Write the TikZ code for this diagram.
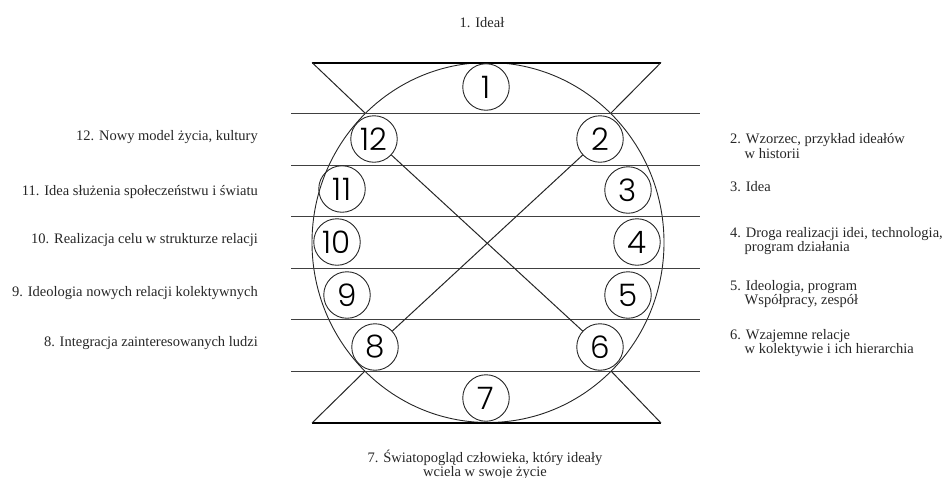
\documentclass[tikz,border=0pt]{standalone}
\usepackage{fontspec}
\setmainfont{Liberation Serif}
\newfontfamily\labfont{Liberation Serif}
\newfontfamily\digfont{Poppins Light}
\begin{document}
\begin{tikzpicture}[x=1pt,y=-1pt,
  numc/.style={circle, draw=black!85, line width=0.9pt, minimum size=46.5pt, inner sep=0pt,
    font=\digfont\fontsize{31}{31}\selectfont},
  thinl/.style={line width=0.9pt, draw=black!75},
  diag/.style={line width=1pt, draw=black!85},
  thickl/.style={line width=2pt, draw=black},
  lab/.style={inner sep=0pt, text=black!85, font=\labfont\fontsize{14.5}{13}\selectfont},
  labr/.style={lab, anchor=west, align=left},
  labl/.style={lab, anchor=east}]
\useasboundingbox (0,0) rectangle (945,477);
% big circle
\draw[thinl, draw=black!85] (488,242.5) ellipse [x radius=176, y radius=180];
% horizontal lines
\foreach \yy in {113,165,216,268,319,371}
  \draw[thinl] (291,\yy) -- (700,\yy);
% top and bottom bars with slanted sides
\coordinate (tl) at (312,62.5);
\coordinate (tr) at (661,62.5);
\coordinate (bl) at (312,423);
\coordinate (br) at (661,423);
\coordinate (itl) at (365,113);
\coordinate (itr) at (611,113);
\coordinate (ibl) at (365,371);
\coordinate (ibr) at (611,371);
\draw[thickl] (tl) -- (tr);
\draw[thickl] (bl) -- (br);
\draw[diag] (tl) -- (itl);
\draw[diag] (tr) -- (itr);
\draw[diag] (bl) -- (ibl);
\draw[diag] (br) -- (ibr);
% numbered circles
\node[numc, fill=white] (n1) at (486,87) {1};
\node[numc] (n12) at (374,139) {12};
\node[numc] (n2) at (600,139) {2};
\node[numc] (n11) at (342,189) {11};
\node[numc] (n3) at (628,190) {3};
\node[numc] (n10) at (337,242) {10};
\node[numc] (n4) at (637,242) {4};
\node[numc] (n9) at (347,295) {9};
\node[numc] (n5) at (628,295) {5};
\node[numc] (n8) at (375,347) {8};
\node[numc] (n6) at (600,347) {6};
\node[numc, fill=white] (n7) at (486,398) {7};
% cross
\draw[diag] (n12) -- (n6);
\draw[diag] (n2) -- (n8);
% labels
\node[lab] (t1) at (482,23) {1. Ideał};
\node[lab, align=center, anchor=north] (t7) at (485,450) {7. Światopogląd człowieka, który ideały\\wciela w swoje życie};
\node[labl] (t12) at (258,137) {12. Nowy model życia, kultury};
\node[labl] (t11) at (258,192) {11. Idea służenia społeczeństwu i światu};
\node[labl] (t10) at (258,240) {10. Realizacja celu w strukturze relacji};
\node[labl] (t9) at (258,293) {9. Ideologia nowych relacji kolektywnych};
\node[labl] (t8) at (258,343) {8. Integracja zainteresowanych ludzi};
\node[labr] (t2) at (730,146) {2. Wzorzec, przykład ideałów\\\hphantom{2.\ }w historii};
\node[labr] (t3) at (730,187) {3. Idea};
\node[labr] (t4) at (730,241) {4. Droga realizacji idei, technologia,\\\hphantom{4.\ }program działania};
\node[labr] (t5) at (730,294) {5. Ideologia, program\\\hphantom{5.\ }Współpracy, zespół};
\node[labr] (t6) at (730,343) {6. Wzajemne relacje\\\hphantom{6.\ }w kolektywie i ich hierarchia};
\end{tikzpicture}
\end{document}
